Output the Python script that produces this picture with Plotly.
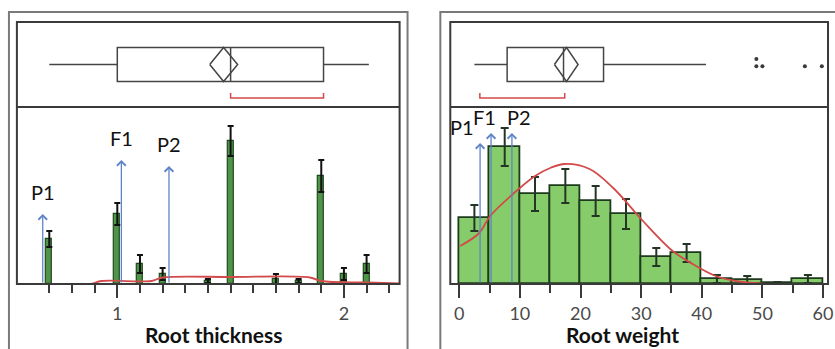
import plotly.graph_objects as go

W, H = 835, 349

# ---------------- DATA ----------------
# Left panel: Root thickness
thick_vals = [0.7, 1.0, 1.1, 1.2, 1.4, 1.5, 1.7, 1.8, 1.9, 2.0, 2.1]
thick_counts = [9.0, 14.0, 4.0, 2.0, 0.6, 28.6, 1.0, 0.6, 21.6, 2.0, 4.0]
thick_err = [1.6, 2.2, 1.8, 1.2, 0.4, 3.0, 1.0, 0.4, 3.2, 1.2, 1.8]
thick_curve_x = [0.72, 0.88, 0.93, 1.15, 1.20, 1.50, 1.85, 1.90, 2.10, 2.25]
thick_curve_y = [0.0, 0.0, 0.6, 0.6, 1.3, 1.4, 1.3, 0.6, 0.3, 0.1]
thick_box = dict(lowerfence=0.70, q1=1.0, median=1.50, q3=1.91, upperfence=2.11)
thick_mean, thick_ci = 1.469, (1.408, 1.531)
thick_shorth = (1.50, 1.91)
thick_major_ticks = [1, 2]
thick_minor_ticks = [0.7, 0.8, 0.9, 1.1, 1.2, 1.3, 1.4, 1.5, 1.6, 1.7, 1.8, 1.9, 2.1, 2.2]
thick_marker_names = ["P1", "F1", "P2"]
thick_marker_x = [0.671, 1.018, 1.228]
thick_marker_top = [14.0, 24.8, 23.6]

# Right panel: Root weight
weight_bin_left = [0, 5, 10, 15, 20, 25, 30, 35, 40, 45, 50, 55]
weight_counts = [16.5, 34.25, 22.5, 24.5, 20.75, 17.5, 6.75, 7.75, 1.25, 1.0, 0.25, 1.25]
weight_err = [3.25, 4.75, 4.25, 4.25, 3.75, 3.75, 2.25, 2.25, 1.0, 1.0, 0.25, 1.0]
weight_curve_x = [0.16, 3.3, 5.1, 9.8, 12.5, 15.0, 17.4, 21.5, 25.4, 30.3, 35.2, 38.5, 42.3, 45.6, 50.0, 55.0]
weight_curve_y = [9.5, 12.75, 17.0, 23.75, 27.0, 29.0, 30.0, 28.75, 24.0, 15.75, 8.25, 5.0, 2.0, 0.75, 0.1, 0.0]
weight_box = dict(lowerfence=2.5, q1=7.9, median=17.2, q3=23.8, upperfence=40.7)
weight_mean, weight_ci = 17.7, (15.7, 19.6)
weight_shorth = (3.4, 17.4)
weight_outliers_x = [49.0, 49.0, 50.0, 57.0, 59.8]
weight_outliers_y = [0.565, 0.48, 0.48, 0.48, 0.48]
weight_marker_names = ["P1", "F1", "P2"]
weight_marker_x = [3.44, 5.25, 8.69]
weight_marker_top = [35.25, 37.75, 37.75]

# ---------------- STYLE ----------------
FONT = "Lato"
FRAME = "#3a3a3a"
OUTER = "#7a7a7a"
RED = "#d24a4a"
BLUE = "#5f84c8"
BOXLINE = "#454545"

def px_x(p):
    return p / W

def px_y(p):
    return 1 - p / H

L_X0, L_X1 = 17, 402
R_X0, R_X1 = 453, 833
TOP, SEP, BASE = 22, 107, 284

fig = go.Figure()

# ---- left histogram
fig.add_trace(go.Bar(
    x=thick_vals, y=thick_counts, width=0.026,
    marker=dict(color="#4f9448", line=dict(color="#1f4a1f", width=1.2)),
    error_y=dict(type="data", array=thick_err, visible=True, color="#111111", thickness=2, width=3),
    xaxis="x", yaxis="y", showlegend=False))
fig.add_trace(go.Scatter(
    x=thick_curve_x, y=thick_curve_y, mode="lines", line=dict(color=RED, width=1.8, shape="spline"),
    xaxis="x", yaxis="y", showlegend=False))

# ---- left box
fig.add_trace(go.Box(
    y=[0.5], q1=[thick_box["q1"]], median=[thick_box["median"]], q3=[thick_box["q3"]],
    lowerfence=[thick_box["lowerfence"]], upperfence=[thick_box["upperfence"]],
    orientation="h", width=0.4, whiskerwidth=0, fillcolor="white",
    line=dict(color=BOXLINE, width=1.5), boxpoints=False, xaxis="x2", yaxis="y2", showlegend=False))
fig.add_trace(go.Scatter(
    x=[thick_ci[0], thick_mean, thick_ci[1], thick_mean, thick_ci[0]],
    y=[0.5, 0.7, 0.5, 0.3, 0.5], mode="lines", line=dict(color=BOXLINE, width=1.5),
    xaxis="x2", yaxis="y2", showlegend=False))
fig.add_trace(go.Scatter(
    x=[thick_shorth[0], thick_shorth[0], thick_shorth[1], thick_shorth[1]],
    y=[0.165, 0.106, 0.106, 0.165], mode="lines", line=dict(color=RED, width=1.5),
    xaxis="x2", yaxis="y2", showlegend=False))

# ---- right histogram
weight_centers = [b + 2.5 for b in weight_bin_left]
fig.add_trace(go.Bar(
    x=weight_centers, y=weight_counts, width=5,
    marker=dict(color="#86cc6a", line=dict(color="#1d3a1d", width=1.8)),
    error_y=dict(type="data", array=weight_err, visible=True, color="#253525", thickness=2, width=4),
    xaxis="x3", yaxis="y3", showlegend=False))
fig.add_trace(go.Scatter(
    x=weight_curve_x, y=weight_curve_y, mode="lines", line=dict(color=RED, width=1.8, shape="spline"),
    xaxis="x3", yaxis="y3", showlegend=False))

# ---- right box
fig.add_trace(go.Box(
    y=[0.5], q1=[weight_box["q1"]], median=[weight_box["median"]], q3=[weight_box["q3"]],
    lowerfence=[weight_box["lowerfence"]], upperfence=[weight_box["upperfence"]],
    orientation="h", width=0.4, whiskerwidth=0, fillcolor="white",
    line=dict(color=BOXLINE, width=1.5), boxpoints=False, xaxis="x4", yaxis="y4", showlegend=False))
fig.add_trace(go.Scatter(
    x=[weight_ci[0], weight_mean, weight_ci[1], weight_mean, weight_ci[0]],
    y=[0.5, 0.7, 0.5, 0.3, 0.5], mode="lines", line=dict(color=BOXLINE, width=1.5),
    xaxis="x4", yaxis="y4", showlegend=False))
fig.add_trace(go.Scatter(
    x=[weight_shorth[0], weight_shorth[0], weight_shorth[1], weight_shorth[1]],
    y=[0.165, 0.106, 0.106, 0.165], mode="lines", line=dict(color=RED, width=1.5),
    xaxis="x4", yaxis="y4", showlegend=False))
fig.add_trace(go.Scatter(
    x=weight_outliers_x, y=weight_outliers_y, mode="markers",
    marker=dict(color="#3a3a3a", size=4), xaxis="x4", yaxis="y4", showlegend=False))

# ---- arrows and labels
annotations = []
for name, xv, top in zip(thick_marker_names, thick_marker_x, thick_marker_top):
    annotations.append(dict(x=xv, y=top, ax=xv, ay=0, xref="x", yref="y", axref="x", ayref="y",
                            text="", showarrow=True, arrowhead=4, arrowsize=1.3, arrowwidth=1.3,
                            arrowcolor=BLUE))
    annotations.append(dict(x=xv, y=top, xref="x", yref="y", text=name, showarrow=False,
                            xanchor="center", yanchor="bottom", yshift=8,
                            font=dict(family=FONT, size=20, color="#111")))
weight_label_shift = [-18, -7, 7]
for name, xv, top, sh in zip(weight_marker_names, weight_marker_x, weight_marker_top, weight_label_shift):
    annotations.append(dict(x=xv, y=top, ax=xv, ay=0, xref="x3", yref="y3", axref="x3", ayref="y3",
                            text="", showarrow=True, arrowhead=4, arrowsize=1.3, arrowwidth=1.3,
                            arrowcolor=BLUE))
    annotations.append(dict(x=xv, y=top, xref="x3", yref="y3", text=name, showarrow=False,
                            xanchor="center", yanchor="bottom", yshift=2, xshift=sh,
                            font=dict(family=FONT, size=20, color="#111")))

annotations.append(dict(x=px_x(215), y=px_y(334), xref="paper", yref="paper", text="<b>Root thickness</b>",
                        showarrow=False, xanchor="center", yanchor="middle",
                        font=dict(family=FONT, size=21, color="#111")))
annotations.append(dict(x=px_x(626), y=px_y(334), xref="paper", yref="paper", text="<b>Root weight</b>",
                        showarrow=False, xanchor="center", yanchor="middle",
                        font=dict(family=FONT, size=21, color="#111")))

# ---- frames
shapes = []
def rect(x0, y0, x1, y1, color, width):
    shapes.append(dict(type="rect", xref="paper", yref="paper", x0=px_x(x0), x1=px_x(x1),
                       y0=px_y(y1), y1=px_y(y0), line=dict(color=color, width=width), layer="above"))
def hline(x0, x1, y, color, width):
    shapes.append(dict(type="line", xref="paper", yref="paper", x0=px_x(x0), x1=px_x(x1),
                       y0=px_y(y), y1=px_y(y), line=dict(color=color, width=width), layer="above"))

rect(9, 12, 410, 360, OUTER, 2)
rect(443, 12, 850, 360, OUTER, 2)
rect(L_X0, TOP, L_X1, BASE, FRAME, 2)
rect(R_X0, TOP, R_X1, BASE, FRAME, 2)
hline(L_X0, L_X1, SEP, FRAME, 2)
hline(R_X0, R_X1, SEP, FRAME, 2)

# ---- axes
L_RANGE = [1 + (L_X0 - 118) / 228, 1 + (L_X1 - 118) / 228]
R_RANGE = [(R_X0 - 462) / 6.1, (R_X1 - 462) / 6.1]
hist_dom = [px_y(BASE), px_y(SEP)]
box_dom = [px_y(SEP), px_y(TOP)]
hidden_y = dict(showticklabels=False, showgrid=False, zeroline=False, showline=False, ticks="")
hidden_x = dict(showticklabels=False, showgrid=False, zeroline=False, showline=False, ticks="")
tickfont = dict(family=FONT, size=18, color="#4a4a4a")

fig.update_layout(
    width=W, height=H, margin=dict(l=0, r=0, t=0, b=0),
    paper_bgcolor="white", plot_bgcolor="white", showlegend=False, bargap=0,
    xaxis=dict(domain=[px_x(L_X0), px_x(L_X1)], range=L_RANGE, anchor="y",
               tickmode="array", tickvals=thick_major_ticks, ticks="outside", ticklen=13,
               tickwidth=2, tickcolor=FRAME, tickfont=tickfont, showgrid=False, zeroline=False,
               minor=dict(tickmode="array", tickvals=thick_minor_ticks, ticks="outside", ticklen=8,
                          tickwidth=2, tickcolor=FRAME, showgrid=False)),
    yaxis=dict(domain=hist_dom, range=[0, 35.4], anchor="x", **hidden_y),
    xaxis2=dict(domain=[px_x(L_X0), px_x(L_X1)], range=L_RANGE, anchor="y2", **hidden_x),
    yaxis2=dict(domain=box_dom, range=[0, 1], anchor="x2", **hidden_y),
    xaxis3=dict(domain=[px_x(R_X0), px_x(R_X1)], range=R_RANGE, anchor="y3",
                tick0=0, dtick=10, ticks="outside", ticklen=13, tickwidth=2, tickcolor=FRAME,
                tickfont=tickfont, showgrid=False, zeroline=False, ticklabeloverflow="allow",
                minor=dict(tick0=5, dtick=10, ticks="outside", ticklen=8, tickwidth=2,
                           tickcolor=FRAME, showgrid=False)),
    yaxis3=dict(domain=hist_dom, range=[0, 44.25], anchor="x3", **hidden_y),
    xaxis4=dict(domain=[px_x(R_X0), px_x(R_X1)], range=R_RANGE, anchor="y4", **hidden_x),
    yaxis4=dict(domain=box_dom, range=[0, 1], anchor="x4", **hidden_y),
    shapes=shapes, annotations=annotations,
)

fig.write_html("out.html", config={"displayModeBar": False},
               post_script="document.body.style.margin='0';document.body.style.overflow='hidden';")
